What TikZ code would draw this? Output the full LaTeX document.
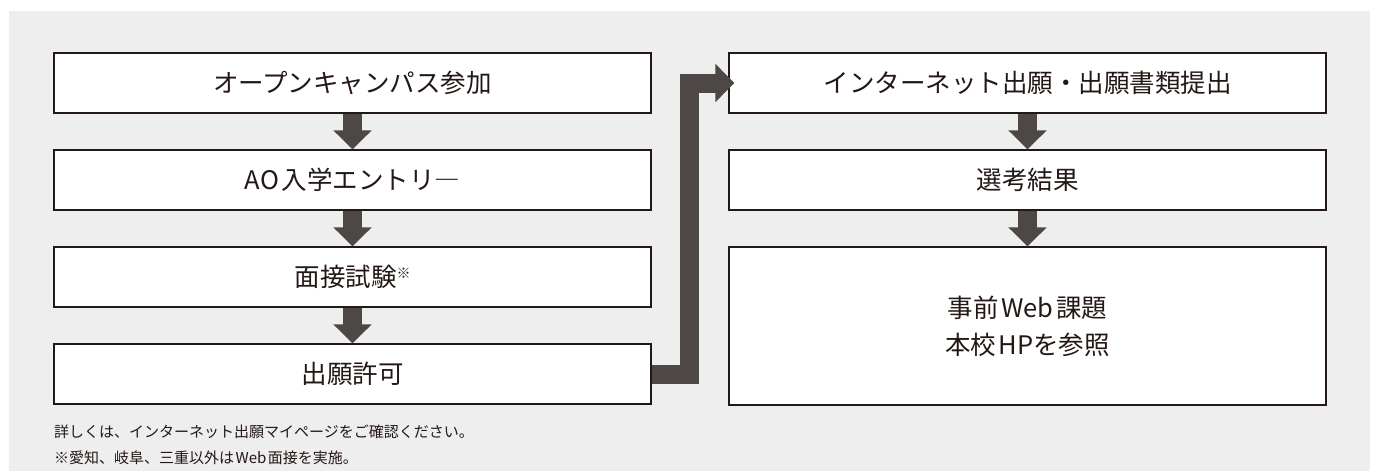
\documentclass[tikz,border=0pt]{standalone}
\usepackage{fontspec}
\setmainfont{Noto Sans CJK JP}
\usetikzlibrary{arrows.meta}
\definecolor{bggray}{RGB}{238,238,238}
\definecolor{arrowgray}{RGB}{77,72,70}
\definecolor{inkdark}{RGB}{35,24,21}
\newcommand{\jsp}{\hspace{0.1em}}
\begin{document}
\begin{tikzpicture}[x=1pt,y=-1pt,
  flowbox/.style={draw=inkdark, line width=1.1pt, fill=white, minimum width=597pt,
    minimum height=60pt, inner sep=0pt, font=\fontsize{25.5}{37}\selectfont, text=inkdark,
    align=center},
  flowarrow/.style={draw=arrowgray, line width=19pt, line join=miter,
    -{Triangle[width=37pt,length=19pt,fill=arrowgray]}},
  note/.style={anchor=west, inner sep=0pt, font=\fontsize{15}{15}\selectfont, text=inkdark}]
\useasboundingbox (0,0) rectangle (1373,471);
\fill[bggray] (9,11) rectangle (1370,471);
% left column
\node[flowbox] (b1) at (352.5,83) {オープンキャンパス参加};
\node[flowbox] (b2) at (352.5,180) {AO\jsp 入学エントリ―};
\node[flowbox] (b3) at (352.5,277) {面接試験{\fontsize{14}{14}\selectfont\raisebox{8pt}{※}}};
\node[flowbox] (b4) at (352.5,374) {出願許可};
% right column
\node[flowbox] (r1) at (1027.5,83) {インターネット出願・出願書類提出};
\node[flowbox] (r2) at (1027.5,180) {選考結果};
\node[flowbox, minimum height=158pt] (r3) at (1027.5,326) {事前\jsp Web\jsp 課題\\本校\jsp HPを参照};
% arrows
\draw[flowarrow] (b1.south) -- (b2.north);
\draw[flowarrow] (b2.south) -- (b3.north);
\draw[flowarrow] (b3.south) -- (b4.north);
\draw[flowarrow] (r1.south) -- (r2.north);
\draw[flowarrow] (r2.south) -- (r3.north);
\coordinate (e1) at (689.5,374);
\coordinate (e2) at (689.5,83);
\coordinate (e3) at ([xshift=6pt]r1.west);
\draw[flowarrow] (b4.east) -- (e1) -- (e2) -- (e3);
% notes
\node[note] (n1) at (54,432) {詳しくは、インターネット出願マイページをご確認ください。};
\node[note] (n2) at (54,458) {※愛知、岐阜、三重以外は\jsp Web\jsp 面接を実施。};
\end{tikzpicture}
\end{document}
